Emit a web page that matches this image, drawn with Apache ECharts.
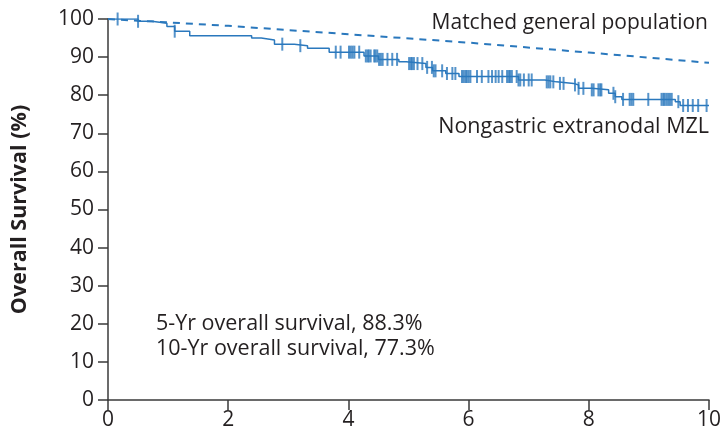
<!DOCTYPE html>
<html>
<head>
<meta charset="utf-8">
<script src="https://cdn.jsdelivr.net/npm/echarts@6/dist/echarts.min.js"></script>
<style>
  html, body { margin: 0; padding: 0; background: #ffffff; }
  #chart { width: 724px; height: 435px; }
</style>
</head>
<body>
<div id="chart"></div>
<script>
// Kaplan-Meier estimate: [years, overall survival %] at each event step
const kmSteps = [
  [0, 100], [0.5, 99.4], [0.73, 98.9], [0.98, 98.0], [1.11, 96.8], [1.36, 95.6],
  [2.39, 95.0], [2.55, 94.5], [2.77, 93.4], [3.1, 93.0], [3.32, 92.3], [3.68, 91.3],
  [4.26, 90.3], [4.5, 89.4], [4.84, 88.8], [4.96, 88.3], [5.29, 87.3], [5.4, 86.4],
  [5.62, 85.7], [5.84, 84.9], [6.83, 84.0], [7.27, 83.5], [7.46, 83.1], [7.75, 82.7],
  [7.83, 81.8], [8.05, 81.4], [8.33, 80.5], [8.44, 79.6], [8.55, 78.9], [9.44, 78.3],
  [9.52, 77.3], [10, 77.3]
];

// Censoring times (years)
const censorTimes = [
  0.16, 0.5, 1.11, 2.9, 3.2, 3.79, 3.87, 4.01, 4.04, 4.07, 4.10, 4.18,
  4.29, 4.32, 4.34, 4.37, 4.43, 4.45, 4.48, 4.51, 4.54, 4.57, 4.65, 4.73, 4.81,
  5.01, 5.04, 5.06, 5.09, 5.15, 5.23, 5.31, 5.39, 5.42, 5.45, 5.56, 5.64, 5.73, 5.78,
  5.89, 5.92, 5.95, 5.97, 6.0, 6.03, 6.14, 6.22, 6.33, 6.39, 6.45, 6.50, 6.56,
  6.64, 6.67, 6.69, 6.72, 6.80, 6.83, 6.86, 6.92, 7.00, 7.05, 7.30, 7.33, 7.36,
  7.41, 7.52, 7.58, 7.77, 7.83, 7.91, 8.05, 8.08, 8.16, 8.19, 8.21, 8.41, 8.44,
  8.57, 8.68, 8.71, 8.74, 8.99, 9.21, 9.24, 9.26, 9.29, 9.32, 9.35, 9.38, 9.49,
  9.57, 9.65, 9.73, 9.82, 9.96
];

// Expected survival of the matched general population
const generalPop = [
  [0, 100], [2, 98.2], [4, 96.0], [6, 93.8], [8, 91.2], [10, 88.5]
];

const xTicks = [0, 2, 4, 6, 8, 10];
const yTicks = [0, 10, 20, 30, 40, 50, 60, 70, 80, 90, 100];

const summaryLines = [
  '5-Yr overall survival, 88.3%',
  '10-Yr overall survival, 77.3%'
];
const seriesLabels = ['Matched general population', 'Nongastric extranodal MZL'];

// survival value of the step function at time t
function survivalAt(t) {
  let v = kmSteps[0][1];
  for (const [time, s] of kmSteps) {
    if (time <= t) v = s; else break;
  }
  return v;
}
const censorPoints = censorTimes.map(t => [t, survivalAt(t)]);

const blue = '#2a78bd';
const ink = '#231f20';
const font = '"Open Sans", "Noto Sans", sans-serif';

const chart = echarts.init(document.getElementById('chart'), null, { renderer: 'canvas' });

chart.setOption({
  animation: false,
  backgroundColor: '#ffffff',
  grid: { left: 108, right: 13, top: 19, bottom: 35, containLabel: false },
  xAxis: {
    type: 'value',
    min: xTicks[0], max: xTicks[xTicks.length - 1], interval: 2,
    axisLine: { lineStyle: { color: '#3a3a3a', width: 1.5 } },
    axisTick: { show: true, length: 10, lineStyle: { color: '#3a3a3a', width: 1.5 } },
    axisLabel: { color: ink, fontSize: 21, fontFamily: font, margin: 10 },
    splitLine: { show: false }
  },
  yAxis: {
    type: 'value',
    min: yTicks[0], max: yTicks[yTicks.length - 1], interval: 10,
    name: 'Overall Survival (%)',
    nameLocation: 'middle',
    nameGap: 77,
    nameTextStyle: { color: ink, fontSize: 21.5, fontWeight: 'bold', fontFamily: font },
    axisLine: { show: true, lineStyle: { color: '#3a3a3a', width: 1.5 } },
    axisTick: { show: true, length: 10, lineStyle: { color: '#3a3a3a', width: 1.5 } },
    axisLabel: { color: ink, fontSize: 21, fontFamily: font, margin: 14 },
    splitLine: { show: false }
  },
  series: [
    {
      name: seriesLabels[0],
      type: 'line',
      data: generalPop,
      showSymbol: false,
      lineStyle: { color: blue, width: 2, type: [7, 6] },
      z: 2
    },
    {
      name: seriesLabels[1],
      type: 'line',
      data: kmSteps,
      step: 'end',
      showSymbol: false,
      lineStyle: { color: blue, width: 1.5 },
      z: 3
    },
    {
      name: 'Censored',
      type: 'scatter',
      data: censorPoints,
      symbol: 'rect',
      symbolSize: [2, 13],
      itemStyle: { color: blue },
      z: 4
    }
  ],
  graphic: [
    {
      type: 'text', right: 16, top: 13,
      style: { text: seriesLabels[0], fill: ink, font: '21px ' + font }
    },
    {
      type: 'text', right: 15, top: 116,
      style: { text: seriesLabels[1], fill: ink, font: '21.5px ' + font }
    },
    {
      type: 'text', left: 156, top: 313,
      style: { text: summaryLines[0], fill: ink, font: '21.5px ' + font }
    },
    {
      type: 'text', left: 156, top: 338,
      style: { text: summaryLines[1], fill: ink, font: '21.5px ' + font }
    }
  ]
});
</script>
</body>
</html>
